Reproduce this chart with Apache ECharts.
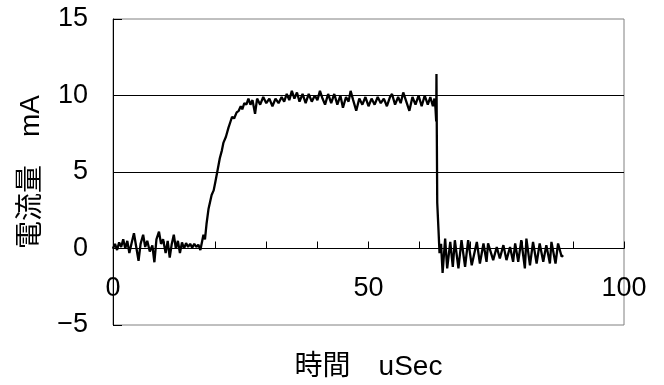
<!DOCTYPE html>
<html>
<head>
<meta charset="utf-8">
<script src="https://cdn.jsdelivr.net/npm/echarts@6/dist/echarts.min.js"></script>
<style>html,body{margin:0;padding:0;background:#fff}#c{width:664px;height:385px}</style>
</head>
<body>
<div id="c"></div>
<script>
// time (uSec)
var timeUs = [
  0, 0.4, 0.8, 1.2, 1.6, 2.0, 2.4, 2.8, 3.2, 3.6, 4.1, 4.5, 5.0, 5.4, 5.9, 6.3, 6.7, 7.2, 7.7, 8.1,
  8.5, 9.0, 9.4, 9.8, 10.3, 10.7, 11.1, 11.5, 11.9, 12.3, 12.7, 13.1, 13.5, 13.9, 14.3, 14.7, 15.1, 15.5, 15.9, 16.3,
  16.7, 17.1, 17.4, 17.7, 18.0, 18.3, 18.7, 19.3, 19.7, 20.0, 20.4, 20.9, 21.3, 21.6, 22.1, 22.6, 23.0, 23.3, 23.7, 24.2,
  24.6, 25.0, 25.3, 25.7, 26.1, 26.5, 26.9, 27.3, 27.8, 28.2, 28.8, 29.4, 30.0, 30.6, 31.2, 31.8, 32.4, 33.0, 33.5, 34.0,
  34.5, 35.0, 35.5, 36.0, 36.5, 37.1, 37.7, 38.3, 38.9, 39.5, 40.0, 40.5, 41.0, 41.5, 42.1, 42.7, 43.3, 43.9, 44.5, 45.0,
  45.6, 46.1, 46.5, 47.0, 47.6, 48.2, 48.8, 49.4, 50.0, 50.6, 51.2, 51.8, 52.4, 53.0, 53.6, 54.2, 54.6, 55.2, 55.8, 56.3,
  56.8, 57.4, 58.0, 58.6, 59.2, 59.8, 60.4, 61.0, 61.6, 62.1, 62.6, 62.9, 63.1, 63.25, 63.3, 63.45, 63.7, 63.9, 64.2, 64.5,
  65.0, 65.4, 66.0, 66.5, 66.9, 67.6, 68.2, 68.9, 69.5, 70.2, 71.2, 71.8, 72.5, 73.1, 73.4, 74.4, 75.1, 75.7, 76.4, 77.0,
  77.7, 78.3, 78.7, 79.3, 79.9, 80.6, 80.9, 81.6, 82.2, 82.9, 83.5, 84.2, 84.8, 85.5, 85.8, 86.6, 87.1, 87.8, 88.1
];
// current (mA)
var currentMA = [
  0.0, 0.3, -0.1, 0.4, 0.1, 0.6, 0.0, 0.5, -0.3, 0.3, 1.0, 0.2, -0.8, 0.3, 0.9, 0.1, 0.5, -0.2, 0.2, -0.9,
  0.6, 1.1, 0.3, 0.6, -0.3, 0.5, -0.6, 0.3, 0.9, 0.0, 0.5, -0.3, 0.4, 0.0, 0.35, 0.1, 0.3, 0.05, 0.3, 0.1,
  0.25, -0.1, -0.2, 0.9, 0.6, 1.6, 2.6, 3.5, 3.8, 4.3, 5.0, 5.9, 6.4, 6.9, 7.3, 7.9, 8.3, 8.6, 8.5, 8.9,
  9.0, 9.3, 9.1, 9.5, 9.4, 9.8, 9.4, 9.7, 8.8, 9.8, 9.4, 9.9, 9.5, 9.8, 9.3, 9.8, 9.5, 9.9, 9.6, 10.1,
  9.7, 10.3, 9.8, 10.2, 9.6, 10.1, 9.5, 10.1, 9.6, 10.0, 9.7, 10.3, 9.8, 9.4, 10.1, 9.5, 10.1, 9.4, 10.0, 9.2,
  9.9, 9.6, 10.3, 9.7, 9.0, 9.8, 9.4, 9.9, 9.3, 9.8, 9.4, 9.9, 9.5, 9.8, 9.3, 9.9, 10.1, 9.4, 9.9, 9.5,
  10.2, 9.6, 9.0, 9.9, 9.4, 10.0, 9.3, 10.0, 9.4, 9.9, 9.3, 9.8, 9.2, 8.3, 11.4, 3.0, 1.2, -0.3, 0.3, -1.6,
  0.65, -1.3, 0.43, -1.2, 0.54, -1.3, 0.54, -1.2, 0.54, -1.1, 0.43, -0.98, 0.33, -0.87, 0.33, -0.76, 0.1, -0.65, 0.22, -0.76,
  0.1, -0.87, 0.33, -0.87, 0.54, -1.3, 0.65, -1.1, 0.43, -0.98, 0.33, -0.87, 0.22, -0.98, 0.43, -0.98, 0.33, -0.54, -0.44
];
var xTicks = [0, 50, 100];
var yTicks = [-5, 0, 5, 10, 15];
var xName = '時間\u3000uSec';
var yName = '電流量\u3000mA';

var pts = timeUs.map(function (t, i) { return [t, currentMA[i]]; });
var FONT = "'Liberation Sans', Arial, 'Noto Sans CJK JP', sans-serif";

var chart = echarts.init(document.getElementById('c'), null, { renderer: 'canvas' });
chart.setOption({
  animation: false,
  backgroundColor: '#fff',
  grid: { left: 113, right: 40, top: 19, bottom: 60, containLabel: false, outerBoundsMode: 'none', show: true, borderColor: '#808080', borderWidth: 1, backgroundColor: 'transparent' },
  xAxis: {
    type: 'value', min: 0, max: 100, interval: 10,
    axisLine: { show: true, onZero: true, lineStyle: { color: '#000', width: 1 } },
    axisTick: { show: true, inside: true, length: 7, lineStyle: { color: '#000' } },
    axisLabel: {
      margin: -50, fontSize: 27, color: '#000', fontFamily: FONT,
      formatter: function (v) { return xTicks.indexOf(v) >= 0 ? String(v) : ''; }
    },
    splitLine: { show: false },
    name: xName, nameLocation: 'middle', nameGap: 28,
    nameTextStyle: { fontSize: 28, color: '#000', fontFamily: FONT }
  },
  yAxis: {
    type: 'value', min: -5, max: 15, interval: 5,
    axisLine: { show: true, onZero: false, lineStyle: { color: '#000', width: 1 } },
    axisTick: { show: true, inside: true, length: 9, lineStyle: { color: '#000' } },
    axisLabel: {
      margin: 25, fontSize: 27, color: '#000', fontFamily: FONT,
      formatter: function (v) { return yTicks.indexOf(v) >= 0 ? (v < 0 ? '\u2212' + Math.abs(v) : String(v)) : ''; }
    },
    splitLine: { show: true, showMinLine: false, showMaxLine: false, lineStyle: { color: '#000', width: 1 } },
    name: yName, nameLocation: 'middle', nameGap: 68,
    nameTextStyle: { fontSize: 28, color: '#000', fontFamily: FONT }
  },
  series: [{
    type: 'line',
    data: pts,
    showSymbol: false,
    symbol: 'none',
    lineStyle: { color: '#000', width: 2.3 },
    z: 3
  }]
});
</script>
</body>
</html>
